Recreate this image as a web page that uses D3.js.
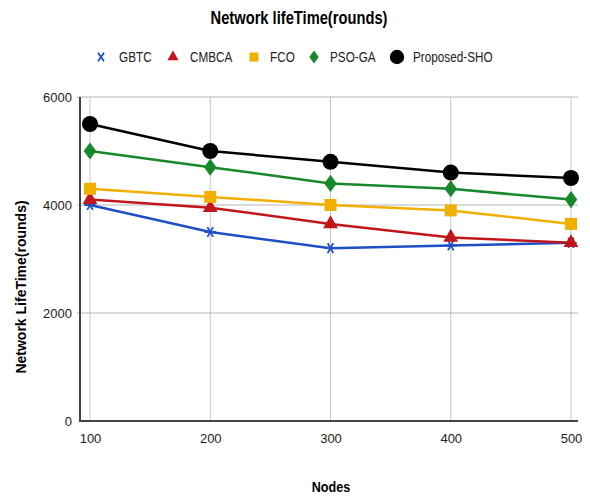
<!DOCTYPE html>
<html>
<head>
<meta charset="utf-8">
<script src="https://cdn.jsdelivr.net/npm/d3@7"></script>
<style>
  body { margin: 0; background: #fff; }
  text { font-family: "Liberation Sans", Arial, sans-serif; }
</style>
</head>
<body>
<div id="chart"></div>
<script>
// data
const nodes = [100, 200, 300, 400, 500];
const gbtc = [4000, 3500, 3200, 3250, 3300];
const cmbca = [4100, 3950, 3650, 3400, 3300];
const fco = [4300, 4150, 4000, 3900, 3650];
const psoGa = [5000, 4700, 4400, 4300, 4100];
const proposedSho = [5500, 5000, 4800, 4600, 4500];
const yTicks = [0, 2000, 4000, 6000];

const series = [
  {name: "GBTC", values: gbtc, color: "#1f4fc4", symbol: "asterisk"},
  {name: "CMBCA", values: cmbca, color: "#c3161b", symbol: "triangle"},
  {name: "FCO", values: fco, color: "#f1b000", symbol: "square"},
  {name: "PSO-GA", values: psoGa, color: "#17882c", symbol: "diamond"},
  {name: "Proposed-SHO", values: proposedSho, color: "#000000", symbol: "circle"}
];

const width = 590, height = 497;
const plot = {left: 80, right: 578, top: 97, bottom: 421};
const squeeze = 0.84; // the reference uses a condensed face

const svg = d3.select("#chart")
  .append("svg")
  .attr("width", width)
  .attr("height", height);

const x = d3.scaleLinear()
  .domain([100, 500])
  .range([90, 571]);

const y = d3.scaleLinear()
  .domain([0, 6000])
  .range([plot.bottom, plot.top]);

// grid lines
svg.append("g")
  .selectAll("line")
  .data(nodes)
  .enter()
  .append("line")
  .attr("x1", d => x(d))
  .attr("x2", d => x(d))
  .attr("y1", plot.top)
  .attr("y2", plot.bottom)
  .style("stroke", "#c4c4c4")
  .style("stroke-width", 1);

svg.append("g")
  .selectAll("line")
  .data(yTicks.filter(d => d > 0))
  .enter()
  .append("line")
  .attr("x1", plot.left - 3)
  .attr("x2", plot.right)
  .attr("y1", d => y(d))
  .attr("y2", d => y(d))
  .style("stroke", "#b5b5b5")
  .style("stroke-width", 1);

// axes
const yAxis = svg.append("g")
  .attr("transform", `translate(${plot.left},0)`)
  .call(d3.axisLeft(y).tickValues(yTicks).tickSize(0).tickPadding(8).tickFormat(d3.format("d")));
yAxis.select(".domain").remove();
yAxis.selectAll("text").style("font-size", "13px").attr("fill", "#222");

const xAxis = svg.append("g")
  .attr("transform", `translate(0,${plot.bottom})`)
  .call(d3.axisBottom(x).tickValues(nodes).tickSize(0).tickPadding(13).tickFormat(d3.format("d")));
xAxis.select(".domain").remove();
xAxis.selectAll("text").style("font-size", "13px").attr("fill", "#222");

svg.append("line")
  .attr("x1", plot.left).attr("x2", plot.left)
  .attr("y1", plot.top).attr("y2", plot.bottom + 1)
  .style("stroke", "#444").style("stroke-width", 2);
svg.append("line")
  .attr("x1", plot.left).attr("x2", plot.right)
  .attr("y1", plot.bottom).attr("y2", plot.bottom)
  .style("stroke", "#444").style("stroke-width", 2);

// marker shapes
function drawMarker(g, kind, color, s, legend) {
  if (kind === "circle") {
    g.append("circle").attr("r", 8 * s).attr("fill", color);
  } else if (kind === "square") {
    g.append("rect").attr("x", -6 * s).attr("y", -6 * s)
      .attr("width", 12 * s).attr("height", 12 * s).attr("fill", color);
  } else if (kind === "diamond") {
    g.append("path").attr("d", d3.symbol().type(d3.symbolSquare).size(110 * s * s)())
      .attr("transform", "scale(0.85,1.15) rotate(45)")
      .attr("fill", color);
  } else if (kind === "triangle") {
    g.append("path").attr("d", d3.symbol().type(d3.symbolTriangle).size(95 * s * s)())
      .attr("fill", color);
  } else if (legend) {
    g.append("path").attr("d", d3.symbol().type(d3.symbolTimes).size(40)())
      .attr("transform", "scale(0.8,1.1)")
      .attr("fill", "none").attr("stroke", color).attr("stroke-width", 2);
  } else {
    g.append("path").attr("d", d3.symbol().type(d3.symbolAsterisk).size(90 * s * s)())
      .attr("transform", "rotate(90)")
      .attr("fill", "none").attr("stroke", color).attr("stroke-width", 1.8);
  }
}

const line = d3.line()
  .x((d, i) => x(nodes[i]))
  .y(d => y(d));

series.forEach(s => {
  svg.append("path")
    .datum(s.values)
    .attr("d", line)
    .attr("fill", "none")
    .attr("stroke", s.color)
    .attr("stroke-width", 2.5);
});

series.forEach(s => {
  svg.append("g")
    .selectAll("g")
    .data(s.values)
    .enter()
    .append("g")
    .attr("transform", (d, i) => `translate(${x(nodes[i])},${y(d)})`)
    .each(function() { drawMarker(d3.select(this), s.symbol, s.color, 1, false); });
});

// title
svg.append("text")
  .attr("transform", `translate(299,24) scale(${squeeze},1)`)
  .attr("text-anchor", "middle")
  .style("font-size", "17.5px")
  .style("font-weight", "bold")
  .text("Network lifeTime(rounds)");

// legend
const legendPos = [
  {mx: 101, tx: 119},
  {mx: 173, tx: 190},
  {mx: 254, tx: 270},
  {mx: 314, tx: 330},
  {mx: 397, tx: 413}
];
series.forEach((s, i) => {
  const g = svg.append("g").attr("transform", `translate(${legendPos[i].mx},57)`);
  drawMarker(g, s.symbol, s.color, s.symbol === "circle" ? 0.9 : 0.75, true);
  svg.append("text")
    .attr("transform", `translate(${legendPos[i].tx},57) scale(${squeeze},1)`)
    .attr("dy", "0.36em")
    .style("font-size", "14px")
    .attr("fill", "#222")
    .text(s.name);
});

// axis titles
svg.append("text")
  .attr("transform", "translate(26,287) rotate(-90)")
  .attr("text-anchor", "middle")
  .style("font-size", "14px")
  .style("font-weight", "bold")
  .text("Network LifeTime(rounds)");

svg.append("text")
  .attr("transform", `translate(331,492) scale(${squeeze},1)`)
  .attr("text-anchor", "middle")
  .style("font-size", "15px")
  .style("font-weight", "bold")
  .text("Nodes");
</script>
</body>
</html>
